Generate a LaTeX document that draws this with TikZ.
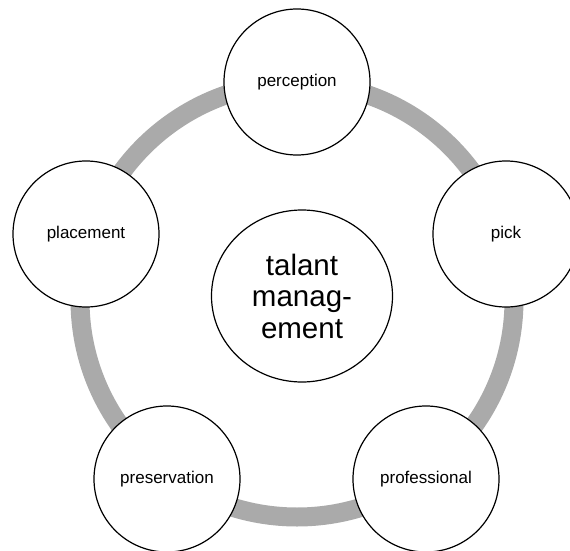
\documentclass[tikz,border=0pt]{standalone}
\usepackage{fontspec}
\setmainfont{Liberation Sans}
\usepackage{tikz}
\usetikzlibrary{shapes.geometric}

\definecolor{ringgray}{HTML}{AAAAAA}

\tikzset{
  stage/.style={circle, draw=black, line width=1.2pt, fill=white,
    minimum size=146pt, inner sep=0pt, font=\fontsize{17}{20}\selectfont},
  core/.style={ellipse, draw=black, line width=1.2pt, fill=white,
    minimum width=181pt, minimum height=172pt, inner sep=0pt, align=center,
    font=\fontsize{29.5}{31.5}\selectfont},
}

\begin{document}
\begin{tikzpicture}[x=1pt,y=-1pt]

\useasboundingbox (0,0) rectangle (570,551);

% grey cycle behind the stages
\coordinate(hub) at (297,300);
\draw[ringgray, line width=19pt] (hub) circle (217pt);

\node(core)[core] at (302,296) {talant\\manag-\\ement};

\node(perception)[stage] at (297,82) {perception};
\node(pick)[stage] at (506,234) {pick};
\node(professional)[stage] at (426,479) {professional};
\node(preservation)[stage] at (167,479) {preservation};
\node(placement)[stage] at (86,234) {placement};

\end{tikzpicture}
\end{document}
